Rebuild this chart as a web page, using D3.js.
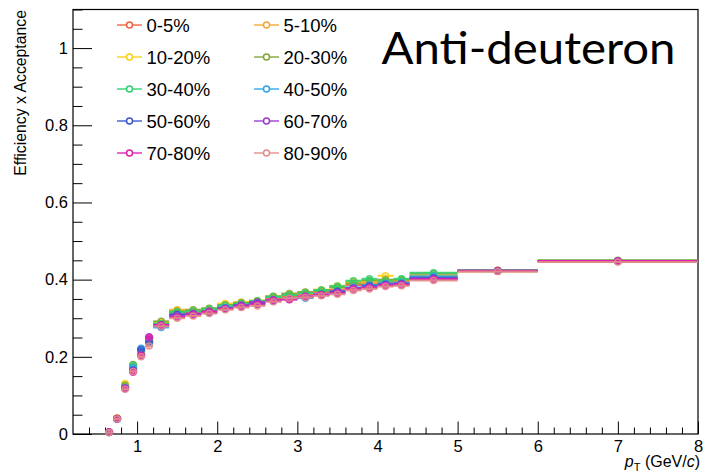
<!DOCTYPE html>
<html>
<head>
<meta charset="utf-8">
<script src="https://cdn.jsdelivr.net/npm/d3@7"></script>
<style>
  html, body { margin: 0; padding: 0; background: #fff; }
  svg { display: block; }
  text { font-family: "Liberation Sans", Arial, Helvetica, sans-serif; fill: #000; }
</style>
</head>
<body>
<svg id="chart" width="703" height="476"></svg>
<script>
// pT bin edges (GeV/c)
const binLow  = [0.6, 0.7, 0.8, 0.9, 1.0, 1.1, 1.2, 1.4, 1.6, 1.8, 2.0, 2.2, 2.4, 2.6, 2.8, 3.0, 3.2, 3.4, 3.6, 3.8, 4.0, 4.2, 4.4, 5.0, 6.0];
const binHigh = [0.7, 0.8, 0.9, 1.0, 1.1, 1.2, 1.4, 1.6, 1.8, 2.0, 2.2, 2.4, 2.6, 2.8, 3.0, 3.2, 3.4, 3.6, 3.8, 4.0, 4.2, 4.4, 5.0, 6.0, 8.0];

// statistical uncertainty per bin
const binErr = [0.001, 0.002, 0.004, 0.004, 0.004, 0.005, 0.003, 0.003, 0.003, 0.003, 0.003, 0.003, 0.003, 0.003, 0.004, 0.004, 0.004, 0.004, 0.005, 0.005, 0.005, 0.006, 0.004, 0.003, 0.002];

// centrality classes
const classes = ["0-5%", "5-10%", "10-20%", "20-30%", "30-40%", "40-50%", "50-60%", "60-70%", "70-80%", "80-90%"];
const colors  = ["#f0603c", "#f5a630", "#f7cf1a", "#7fa535", "#2fcf6f", "#2ea4ee", "#3a55d0", "#9a3ad0", "#e01fb0", "#e28a86"];

// efficiency x acceptance per centrality class
const eff0 = [0.004, 0.040, 0.124, 0.170, 0.210, 0.242, 0.284, 0.314, 0.316, 0.320, 0.332, 0.337, 0.340, 0.352, 0.356, 0.362, 0.368, 0.374, 0.386, 0.390, 0.393, 0.396, 0.405, 0.423, 0.448];
const eff1 = [0.005, 0.041, 0.128, 0.172, 0.212, 0.246, 0.288, 0.322, 0.318, 0.322, 0.334, 0.340, 0.344, 0.353, 0.360, 0.364, 0.372, 0.380, 0.392, 0.392, 0.398, 0.398, 0.410, 0.424, 0.449];
const eff2 = [0.005, 0.042, 0.131, 0.176, 0.214, 0.248, 0.290, 0.320, 0.320, 0.324, 0.338, 0.342, 0.346, 0.356, 0.362, 0.366, 0.374, 0.384, 0.395, 0.396, 0.410, 0.400, 0.410, 0.421, 0.447];
const eff3 = [0.005, 0.040, 0.126, 0.180, 0.215, 0.244, 0.292, 0.318, 0.322, 0.326, 0.334, 0.340, 0.343, 0.357, 0.364, 0.368, 0.371, 0.380, 0.390, 0.398, 0.400, 0.400, 0.415, 0.424, 0.450];
const eff4 = [0.004, 0.039, 0.122, 0.178, 0.216, 0.240, 0.286, 0.316, 0.318, 0.323, 0.333, 0.338, 0.345, 0.355, 0.360, 0.365, 0.373, 0.383, 0.397, 0.402, 0.396, 0.402, 0.418, 0.423, 0.449];
const eff5 = [0.004, 0.039, 0.120, 0.172, 0.222, 0.236, 0.276, 0.308, 0.310, 0.314, 0.328, 0.332, 0.337, 0.346, 0.352, 0.352, 0.360, 0.368, 0.380, 0.386, 0.390, 0.392, 0.409, 0.423, 0.448];
const eff6 = [0.005, 0.038, 0.118, 0.166, 0.219, 0.238, 0.280, 0.310, 0.311, 0.316, 0.326, 0.333, 0.339, 0.344, 0.350, 0.355, 0.362, 0.370, 0.378, 0.384, 0.388, 0.390, 0.405, 0.423, 0.447];
const eff7 = [0.005, 0.040, 0.119, 0.164, 0.205, 0.252, 0.283, 0.306, 0.312, 0.318, 0.325, 0.334, 0.342, 0.348, 0.350, 0.357, 0.360, 0.366, 0.378, 0.380, 0.386, 0.386, 0.402, 0.422, 0.448];
const eff8 = [0.005, 0.040, 0.118, 0.160, 0.204, 0.250, 0.282, 0.303, 0.309, 0.316, 0.324, 0.330, 0.336, 0.346, 0.348, 0.356, 0.361, 0.365, 0.375, 0.379, 0.385, 0.388, 0.401, 0.423, 0.448];
const eff9 = [0.004, 0.039, 0.116, 0.162, 0.200, 0.228, 0.279, 0.300, 0.306, 0.312, 0.322, 0.328, 0.332, 0.343, 0.352, 0.354, 0.358, 0.362, 0.372, 0.376, 0.382, 0.384, 0.398, 0.421, 0.446];
const effSeries = [eff0, eff1, eff2, eff3, eff4, eff5, eff6, eff7, eff8, eff9];

// axis ticks
const xTicks = [1, 2, 3, 4, 5, 6, 7, 8];
const xTickLabels = ["1", "2", "3", "4", "5", "6", "7", "8"];
const yTicks = [0, 0.2, 0.4, 0.6, 0.8, 1.0];
const yTickLabels = ["0", "0.2", "0.4", "0.6", "0.8", "1"];

const svg = d3.select("#chart");
const frame = { left: 73, right: 698, top: 9.5, bottom: 434 };

const x = d3.scaleLinear().domain([0.2, 8]).range([frame.left, frame.right]);
const y = d3.scaleLinear().domain([0, 1.1]).range([frame.bottom, frame.top]);

// minor tick positions
const xMinor = d3.range(1, 40).map(i => +(0.2 + i * 0.2).toFixed(2)).filter(v => Math.abs(v - Math.round(v)) > 1e-6 && v < 8);
const yMinor = d3.range(1, 23).map(i => +(i * 0.05).toFixed(2)).filter(v => Math.abs(v * 5 - Math.round(v * 5)) > 1e-6);

// x axis: ticks point into the frame
const gx = svg.append("g").attr("transform", `translate(0,${frame.bottom})`);
gx.call(d3.axisBottom(x).tickValues(xTicks).tickFormat((d, i) => xTickLabels[i])
  .tickSizeInner(-12.5).tickSizeOuter(0).tickPadding(6));
gx.append("g").call(d3.axisBottom(x).tickValues(xMinor).tickFormat("").tickSizeInner(-6.5).tickSizeOuter(0));
gx.selectAll(".domain").remove();
gx.selectAll("line").attr("stroke", "#000").attr("stroke-width", 1);
gx.selectAll("text").style("font-size", "16.5px").attr("fill", "#000")
  .style("font-family", "'Liberation Sans', Arial, sans-serif");

// y axis
const gy = svg.append("g").attr("transform", `translate(${frame.left},0)`);
gy.call(d3.axisLeft(y).tickValues(yTicks).tickFormat((d, i) => yTickLabels[i])
  .tickSizeInner(-19).tickSizeOuter(0).tickPadding(5));
gy.append("g").call(d3.axisLeft(y).tickValues(yMinor).tickFormat("").tickSizeInner(-9.5).tickSizeOuter(0));
gy.selectAll(".domain").remove();
gy.selectAll("line").attr("stroke", "#000").attr("stroke-width", 1);
gy.selectAll("text").style("font-size", "16.5px").attr("fill", "#000")
  .style("font-family", "'Liberation Sans', Arial, sans-serif");

// frame
svg.append("rect")
  .attr("x", frame.left).attr("y", frame.top)
  .attr("width", frame.right - frame.left).attr("height", frame.bottom - frame.top)
  .attr("fill", "none").attr("stroke", "#000").attr("stroke-width", 1.2);

// data: horizontal bin-width bars, vertical error bars, open circle markers
const plot = svg.append("g");
effSeries.forEach((vals, s) => {
  const g = plot.append("g").attr("stroke", colors[s]).attr("stroke-opacity", 0.9);
  const pts = vals.map((v, i) => ({ lo: binLow[i], hi: binHigh[i], c: (binLow[i] + binHigh[i]) / 2, v, e: binErr[i] }));
  g.selectAll("line.h").data(pts).join("line").attr("class", "h")
    .attr("x1", d => x(d.lo)).attr("x2", d => x(d.hi))
    .attr("y1", d => y(d.v)).attr("y2", d => y(d.v))
    .attr("stroke-width", 2);
  g.selectAll("line.v").data(pts).join("line").attr("class", "v")
    .attr("x1", d => x(d.c)).attr("x2", d => x(d.c))
    .attr("y1", d => y(d.v - d.e)).attr("y2", d => y(d.v + d.e))
    .attr("stroke-width", 1.5);
  g.selectAll("circle").data(pts).join("circle")
    .attr("cx", d => x(d.c)).attr("cy", d => y(d.v)).attr("r", 3)
    .attr("fill", "none").attr("stroke-width", 1.5);
});

// legend, two columns
const legend = svg.append("g");
classes.forEach((name, i) => {
  const col = i % 2, row = Math.floor(i / 2);
  const lx = col === 0 ? 117 : 254;
  const ly = 25 + row * 32;
  const item = legend.append("g").attr("transform", `translate(${lx},${ly})`);
  item.append("line").attr("x1", 0).attr("x2", 25).attr("y1", 0).attr("y2", 0)
    .attr("stroke", colors[i]).attr("stroke-width", 1.5).attr("stroke-opacity", 0.9);
  item.append("circle").attr("cx", 12.5).attr("cy", 0).attr("r", 3)
    .attr("fill", "#fff").attr("stroke", colors[i]).attr("stroke-width", 1.5);
  item.append("text").attr("x", 29.5).attr("y", 0).attr("dy", "0.36em")
    .style("font-size", "18.5px").text(name);
});

// title
svg.append("text")
  .attr("x", 381.5).attr("y", 63.5)
  .attr("textLength", 294).attr("lengthAdjust", "spacingAndGlyphs")
  .style("font-family", "Lato, 'Open Sans', sans-serif")
  .style("font-size", "45px")
  .text("Anti-deuteron");

// axis titles
svg.append("text")
  .attr("transform", "translate(26,10) rotate(-90)")
  .attr("text-anchor", "end")
  .style("font-size", "15.8px")
  .text("Efficiency x Acceptance");

const xt = svg.append("text")
  .attr("x", 700).attr("y", 467)
  .attr("text-anchor", "end")
  .style("font-size", "16px");
xt.append("tspan").style("font-style", "italic").text("p");
xt.append("tspan").attr("dy", 4).style("font-size", "11px").text("T");
xt.append("tspan").attr("dy", -4).text(" (GeV/");
xt.append("tspan").style("font-style", "italic").text("c");
xt.append("tspan").text(")");
</script>
</body>
</html>
